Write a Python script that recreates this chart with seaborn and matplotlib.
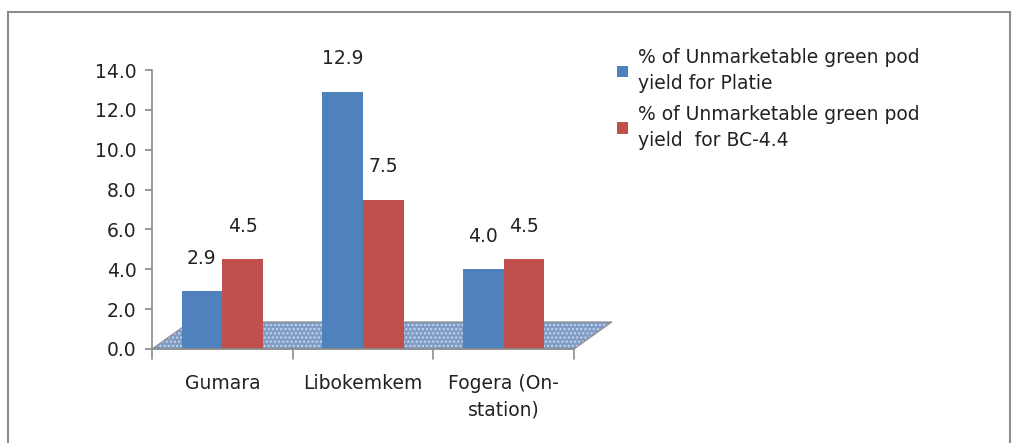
import matplotlib
matplotlib.use("Agg")
import matplotlib.pyplot as plt
import seaborn as sns
import pandas as pd
from matplotlib.patches import Polygon, Rectangle

categories = ["Gumara", "Libokemkem", "Fogera (On-\nstation)"]
platie = [2.9, 12.9, 4.0]
bc44 = [4.5, 7.5, 4.5]
series_names = ["% of Unmarketable green pod\nyield for Platie",
                "% of Unmarketable green pod\nyield  for BC-4.4"]
yticks = [0, 2, 4, 6, 8, 10, 12, 14]

df = pd.DataFrame({
    "cat": categories * 2,
    "val": platie + bc44,
    "series": [series_names[0]] * 3 + [series_names[1]] * 3,
})

sns.set_theme(style="white")
plt.rcParams["font.family"] = ["DejaVu Sans"]

FS = 13.5
fig = plt.figure(figsize=(10.17, 4.43), dpi=100)
ax = fig.add_axes([152/1017, 1-349/443, 422/1017, 279/443])

# outer frame (bottom edge lies outside the image)
fig.patches.append(Rectangle((8/1017, -0.05), 1002/1017, 1.05-12/443, transform=fig.transFigure,
                             fill=False, edgecolor="#8c8c8c", linewidth=1.5))

# floor
floor_pts = [[0, 0], [1.0, 0], [1.09, 0.097], [0.09, 0.097]]
ax.add_patch(Polygon(floor_pts, closed=True, transform=ax.transAxes,
                     facecolor="#7f9cc6", edgecolor="#c9d5e8", hatch="....",
                     linewidth=0, clip_on=False, zorder=0))
ax.add_patch(Polygon(floor_pts, closed=True, transform=ax.transAxes,
                     facecolor="none", edgecolor="#8c8c8c", linewidth=0.8,
                     clip_on=False, zorder=0.5))

sns.barplot(data=df, x="cat", y="val", hue="series",
            palette=["#4F81BD", "#C0504D"], saturation=1, width=0.58, ax=ax,
            edgecolor="none", zorder=2, legend=True)

for cont in ax.containers:
    ax.bar_label(cont, fmt="%.1f", padding=17, fontsize=FS, color="#222222")

ax.set_ylim(0, 14)
ax.set_xlim(-0.5, 2.5)
ax.set_yticks(yticks)
ax.set_yticklabels([f"{v:.1f}" for v in yticks], fontsize=FS, color="#222222")
ax.set_xticks([0, 1, 2])
ax.set_xticklabels(categories, fontsize=FS, color="#222222", linespacing=1.5)
ax.set_xlabel("")
ax.set_ylabel("")

for s in ["top", "right"]:
    ax.spines[s].set_visible(False)
for s in ["left", "bottom"]:
    ax.spines[s].set_color("#8c8c8c")
    ax.spines[s].set_linewidth(1.2)

ax.tick_params(axis="y", left=True, length=5, color="#8c8c8c", pad=6)
ax.tick_params(axis="x", bottom=False, pad=12)
for xb in [-0.5, 0.5, 1.5, 2.5]:
    ax.plot([xb, xb], [0, -0.035], transform=ax.get_xaxis_transform(),
            color="#8c8c8c", lw=1.2, clip_on=False)

handles, labels = ax.get_legend_handles_labels()
leg = ax.legend(handles, labels, loc="upper left", bbox_to_anchor=(600/1017, 1-31/443),
                bbox_transform=fig.transFigure, frameon=False, fontsize=FS,
                handlelength=0.6, handleheight=0.6, handletextpad=0.5, labelspacing=0.6)
for t in leg.get_texts():
    t.set_linespacing(1.5)
    t.set_color("#222222")

fig.savefig("out.png", dpi=100)
